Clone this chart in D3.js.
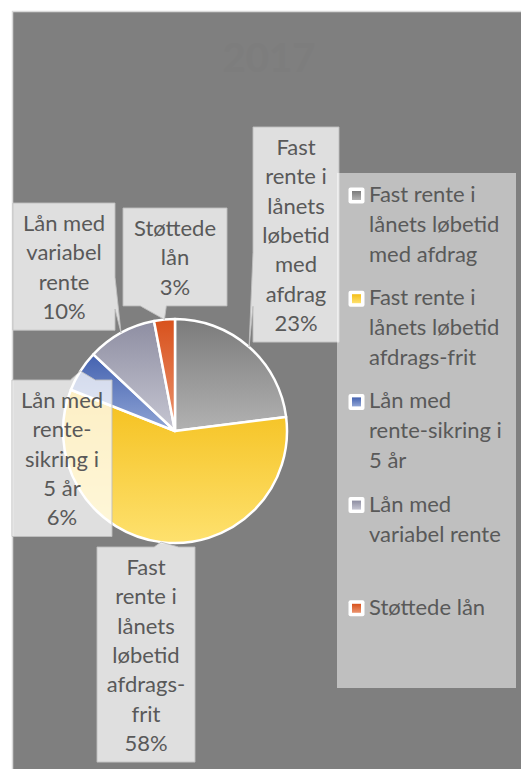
<!DOCTYPE html>
<html>
<head>
<meta charset="utf-8">
<script src="https://cdn.jsdelivr.net/npm/d3@7"></script>
<style>
  html, body { margin: 0; padding: 0; background: #fff; }
  svg { display: block; }
</style>
</head>
<body>
<div id="chart"></div>
<script>
// Data
const title = '2017';
const categories = [
    'Fast rente i lånets løbetid med afdrag',
    'Fast rente i lånets løbetid afdrags-frit',
    'Lån med rente-sikring i 5 år',
    'Lån med variabel rente',
    'Støttede lån'
];
const values = [23, 58, 6, 10, 3];
const labelLines = [
    ['Fast', 'rente i', 'lånets', 'løbetid', 'med', 'afdrag'],
    ['Fast', 'rente i', 'lånets', 'løbetid', 'afdrags-', 'frit'],
    ['Lån med', 'rente-', 'sikring i', '5 år'],
    ['Lån med', 'variabel', 'rente'],
    ['Støttede', 'lån']
];
const legendLines = [
    ['Fast rente i', 'lånets løbetid', 'med afdrag'],
    ['Fast rente i', 'lånets løbetid', 'afdrags-frit'],
    ['Lån med', 'rente-sikring i', '5 år'],
    ['Lån med', 'variabel rente'],
    ['Støttede lån']
];
const sliceColors = [
    ['#7b7b7b', '#b2b2b2'],
    ['#f4bf1a', '#fee16e'],
    ['#4462b0', '#90a5d5'],
    ['#8e8ea2', '#c6c6d2'],
    ['#d8511c', '#eb946f']
];

// Layout
const W = 521, H = 769;
const cfg = {
    cx: 175, cy: 431, r: 112,
    lineH: 29.3,
    font: 'Lato, "Open Sans", sans-serif',
    fontSize: 22,
    textColor: '#595959'
};
// label boxes: left, top, width (height comes from the line count)
const labelBoxes = [
    { x: 253, y: 127, w: 86 },
    { x: 97, y: 547, w: 98 },
    { x: 12, y: 380, w: 100 },
    { x: 13, y: 203, w: 102 },
    { x: 123, y: 208, w: 104 }
];
const legendBox = { x: 337, y: 173, w: 179, h: 515, step: 103.2, firstBase: 202 };

const svg = d3.select('#chart').append('svg')
    .attr('width', W)
    .attr('height', H)
    .style('font-family', cfg.font);

// Gradients
const defs = svg.append('defs');
sliceColors.forEach((c, i) => {
    const g = defs.append('linearGradient')
        .attr('id', 'grad' + i)
        .attr('x1', 0).attr('y1', 0).attr('x2', 0).attr('y2', 1);
    g.append('stop').attr('offset', '0%').attr('stop-color', c[0]);
    g.append('stop').attr('offset', '100%').attr('stop-color', c[1]);
});

// Chart area
svg.append('rect')
    .attr('x', 12.5).attr('y', 11.5)
    .attr('width', 520).attr('height', 770)
    .attr('fill', '#7f7f7f')
    .attr('stroke', '#d9d9d9')
    .attr('stroke-width', 1.5);

// Title (nearly the same tone as the background)
svg.append('text')
    .attr('x', 269).attr('y', 72)
    .attr('text-anchor', 'middle')
    .attr('font-size', 40)
    .attr('font-weight', 700)
    .attr('fill', '#7d7d7d')
    .text(title);

// Pie
const pie = d3.pie().sort(null).value(d => d);
const arcs = pie(values);
const arc = d3.arc().innerRadius(0).outerRadius(cfg.r);

const pieG = svg.append('g')
    .attr('transform', `translate(${cfg.cx},${cfg.cy})`);
pieG.selectAll('path.slice')
    .data(arcs)
    .join('path')
    .attr('class', 'slice')
    .attr('d', arc)
    .attr('fill', (d, i) => `url(#grad${i})`)
    .attr('stroke', '#fff')
    .attr('stroke-width', 2.5)
    .attr('stroke-linejoin', 'round');

// Callout box with a wedge tail toward (px, py)
function calloutPath(x, y, w, h, px, py) {
    const dx = px - (x + w / 2), dy = py - (y + h / 2);
    const dq = dx * h / w;
    const vert = Math.abs(dy) - Math.abs(dq) > 0;
    const x1 = x + w * (dx > 0 ? 7 : 2) / 12, x2 = x + w * (dx > 0 ? 10 : 5) / 12;
    const y1 = y + h * (dy > 0 ? 7 : 2) / 12, y2 = y + h * (dy > 0 ? 10 : 5) / 12;
    const pts = [[x, y]];
    if (vert && dy < 0) pts.push([x1, y], [px, py], [x2, y]);
    pts.push([x + w, y]);
    if (!vert && dx > 0) pts.push([x + w, y1], [px, py], [x + w, y2]);
    pts.push([x + w, y + h]);
    if (vert && dy > 0) pts.push([x2, y + h], [px, py], [x1, y + h]);
    pts.push([x, y + h]);
    if (!vert && dx < 0) pts.push([x, y2], [px, py], [x, y1]);
    return 'M' + pts.map(p => p.join(',')).join('L') + 'Z';
}

// Data labels
const labelG = svg.append('g');
arcs.forEach((d, i) => {
    const b = labelBoxes[i];
    const lines = labelLines[i].concat([Math.round(d.data) + '%']);
    const h = lines.length * cfg.lineH + 10;
    const a = (d.startAngle + d.endAngle) / 2;
    const px = cfg.cx + cfg.r * Math.sin(a);
    const py = cfg.cy - cfg.r * Math.cos(a);

    labelG.append('path')
        .attr('d', calloutPath(b.x, b.y, b.w, h, px, py))
        .attr('fill', 'rgba(255,255,255,0.75)')
        .attr('stroke', 'rgba(191,191,191,0.9)')
        .attr('stroke-width', 1);

    const t = labelG.append('text')
        .attr('text-anchor', 'middle')
        .attr('font-size', cfg.fontSize)
        .attr('fill', cfg.textColor);
    lines.forEach((ln, j) => {
        t.append('tspan')
            .attr('x', b.x + b.w / 2)
            .attr('y', b.y + 28 + j * cfg.lineH)
            .text(ln);
    });
});

// Legend
const legG = svg.append('g');
legG.append('rect')
    .attr('x', legendBox.x).attr('y', legendBox.y)
    .attr('width', legendBox.w).attr('height', legendBox.h)
    .attr('fill', 'rgba(255,255,255,0.5)');

categories.forEach((c, i) => {
    const base = legendBox.firstBase + i * legendBox.step;
    legG.append('rect')
        .attr('x', 348.5).attr('y', base - 14.5)
        .attr('width', 16).attr('height', 16)
        .attr('rx', 2)
        .attr('fill', '#fff');
    legG.append('rect')
        .attr('x', 352).attr('y', base - 11)
        .attr('width', 9).attr('height', 9)
        .attr('fill', `url(#grad${i})`);
    const t = legG.append('text')
        .attr('font-size', cfg.fontSize)
        .attr('fill', cfg.textColor);
    legendLines[i].forEach((ln, j) => {
        t.append('tspan')
            .attr('x', 369)
            .attr('y', base + j * 30)
            .text(ln);
    });
});
</script>
</body>
</html>
